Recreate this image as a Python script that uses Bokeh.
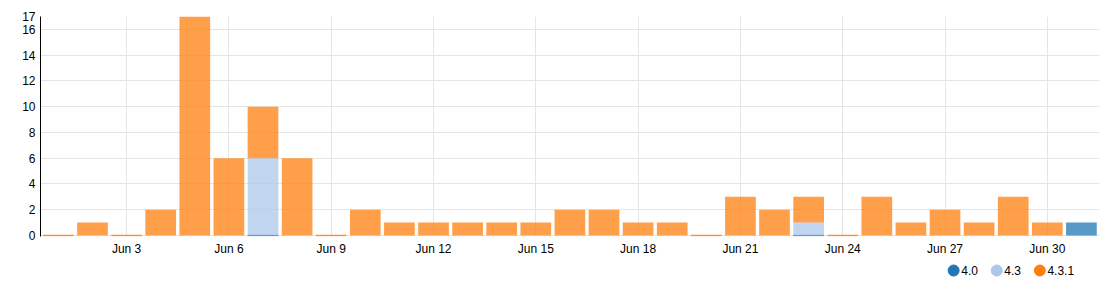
from bokeh.plotting import figure
from bokeh.layouts import column
from bokeh.models import ColumnDataSource, FixedTicker, Range1d
from bokeh.core.properties import value
from bokeh.embed import file_html
from bokeh.resources import INLINE

# Day index: 1 = Jun 1 ... 31 = Jul 1
days = list(range(1, 32))
# None = no data for that day; 0 = recorded zero
v40 = [None, None, None, None, None, None, 0, None, None, None,
       None, None, None, None, None, None, None, None, None, None,
       None, None, 0, None, None, None, None, None, None, None, 1]
v43 = [None, None, None, None, None, None, 6, None, None, None,
       None, None, None, None, None, None, None, None, None, None,
       None, None, 1, None, None, None, None, None, None, None, None]
v431 = [0, 1, 0, 2, 17, 6, 4, 6, 0, 2,
        1, 1, 1, 1, 1, 2, 2, 1, 1, 0,
        3, 2, 2, 0, 3, 1, 2, 1, 3, 1, None]
series_names = ["4.0", "4.3", "4.3.1"]
series_colors = ["#1f77b4", "#aec7e8", "#ff7f0e"]
x_tick_days = [3, 6, 9, 12, 15, 18, 21, 24, 27, 30]
x_tick_labels = ["Jun 3", "Jun 6", "Jun 9", "Jun 12", "Jun 15",
                 "Jun 18", "Jun 21", "Jun 24", "Jun 27", "Jun 30"]
y_ticks = [0, 2, 4, 6, 8, 10, 12, 14, 16, 17]

FONT = "Liberation Sans"
BAR_W = 0.9
W = 1118
MAIN_H = 258
LEG_H = 28

p = figure(width=W, height=MAIN_H, output_backend="svg", toolbar_location=None,
           x_range=Range1d(0.475, 31.53), y_range=Range1d(-0.08, 17),
           min_border_left=40, min_border_right=19, min_border_top=16,
           min_border_bottom=21)
p.outline_line_color = None

base = [0.0] * len(days)
for vals, name, col in zip([v40, v43, v431], series_names, series_colors):
    xs, bottoms, tops, zx0, zx1, zy = [], [], [], [], [], []
    for i, v in enumerate(vals):
        if v is None:
            continue
        if v == 0:
            zx0.append(days[i] - BAR_W / 2)
            zx1.append(days[i] + BAR_W / 2)
            zy.append(base[i])
        else:
            xs.append(days[i])
            bottoms.append(base[i])
            tops.append(base[i] + v)
            base[i] += v
    src = ColumnDataSource(data=dict(x=xs, bottom=bottoms, top=tops))
    p.vbar(x="x", bottom="bottom", top="top", width=BAR_W, source=src,
           fill_color=col, fill_alpha=0.75, line_color=None)
    if zx0:
        zsrc = ColumnDataSource(data=dict(x0=zx0, x1=zx1, y=zy))
        p.segment(x0="x0", y0="y", x1="x1", y1="y", source=zsrc,
                  line_color=col, line_alpha=0.85, line_width=1.5)

p.xaxis.ticker = FixedTicker(ticks=x_tick_days)
p.xaxis.major_label_overrides = {d: l for d, l in zip(x_tick_days, x_tick_labels)}
p.xaxis.axis_line_color = None
p.xaxis.major_tick_line_color = None
p.xaxis.minor_tick_line_color = None
p.xaxis.major_tick_out = 0
p.xaxis.major_tick_in = 0
p.xaxis.minor_tick_out = 0
p.xaxis.major_label_standoff = 5
p.xaxis.major_label_text_font = FONT
p.xaxis.major_label_text_font_size = "12px"
p.xaxis.major_label_text_color = "#000000"

p.yaxis.ticker = FixedTicker(ticks=y_ticks)
p.yaxis.axis_line_color = "#000000"
p.yaxis.major_tick_line_color = None
p.yaxis.minor_tick_line_color = None
p.yaxis.major_tick_out = 0
p.yaxis.minor_tick_out = 0
p.yaxis.major_label_standoff = 5
p.yaxis.major_label_text_font = FONT
p.yaxis.major_label_text_font_size = "12px"
p.yaxis.major_label_text_color = "#000000"

p.xgrid.ticker = FixedTicker(ticks=x_tick_days)
p.ygrid.ticker = FixedTicker(ticks=y_ticks)
p.grid.grid_line_color = "#e5e5e5"

# legend strip below the chart (pixel coordinates)
lg = figure(width=W, height=LEG_H, output_backend="svg", toolbar_location=None,
            x_range=Range1d(0, W), y_range=Range1d(0, LEG_H),
            x_axis_location=None, y_axis_location=None,
            min_border_left=0, min_border_right=0, min_border_top=0,
            min_border_bottom=0)
lg.outline_line_color = None
lg.grid.visible = False

cx, tx = [], []
x = 964.0
for name in series_names:
    cx.append(x)
    tx.append(x + 8)
    x += 45.5
cy = [LEG_H - 12] * len(series_names)
lsrc = ColumnDataSource(data=dict(cx=cx, tx=tx, y=cy, name=series_names,
                                  color=series_colors))
lg.scatter(x="cx", y="y", source=lsrc, size=11, fill_color="color",
           line_color="color")
lg.text(x="tx", y="y", text="name", source=lsrc, text_font=value(FONT),
        text_font_size="12px", text_color="#000000", text_baseline="middle",
        text_align="left")

open("out.html", "w").write(file_html(column(p, lg, spacing=0), INLINE))
